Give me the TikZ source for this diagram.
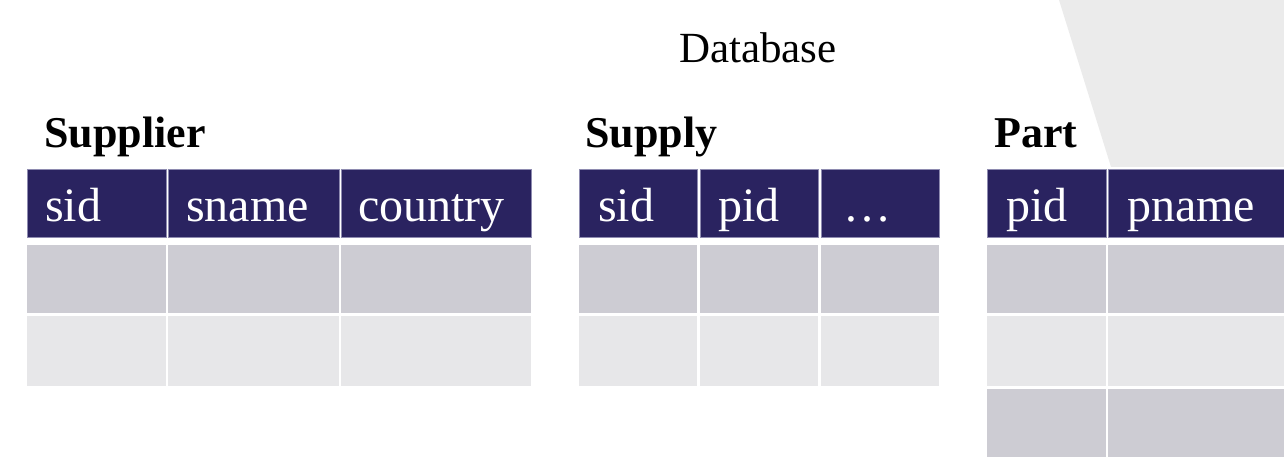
\documentclass[tikz,border=0pt]{standalone}
\usepackage{fontspec}
\setmainfont{Liberation Serif}
\definecolor{hdr}{HTML}{2A2360}
\definecolor{hdrline}{HTML}{8E8BB0}
\definecolor{rowA}{HTML}{CDCCD3}
\definecolor{rowB}{HTML}{E7E7E9}
\definecolor{trap}{HTML}{EBEBEB}
\tikzset{
  cell/.style={rectangle, inner sep=0pt, outer sep=0pt, anchor=north west},
  hcell/.style={cell, fill=hdr, draw=hdrline, line width=0.7pt},
  acell/.style={cell, fill=rowA},
  bcell/.style={cell, fill=rowB},
  htext/.style={anchor=base west, inner sep=0pt, text=white, font=\fontsize{48}{56}\selectfont},
  ttext/.style={anchor=base west, inner sep=0pt, font=\fontsize{44}{52}\selectfont\bfseries},
  dbtext/.style={anchor=base, inner sep=0pt, font=\fontsize{43}{50}\selectfont},
}
\newcommand\mkcell[6]{\node[#2, minimum width=#5pt, minimum height=#6pt] (#1) at (#3,#4) {};}
\begin{document}
\begin{tikzpicture}[x=1pt,y=-1pt]
\useasboundingbox (0,0) rectangle (1284,457);
\clip (0,0) rectangle (1284,457);
% background shape
\fill[trap] (1059,0) -- (1111,167) -- (1290,167) -- (1290,0) -- cycle;
% title
\node[dbtext] (db) at (758,62.5) {Database};
% ---------- Supplier ----------
\node[ttext] (supplier) at (44,148) {Supplier};
\mkcell{s-h1}{hcell}{27}{169.5}{139}{67.5}
\mkcell{s-h2}{hcell}{168}{169.5}{171}{67.5}
\mkcell{s-h3}{hcell}{341}{169.5}{190}{67.5}
\mkcell{s-a1}{acell}{27}{245}{139}{68}
\mkcell{s-a2}{acell}{168}{245}{171}{68}
\mkcell{s-a3}{acell}{341}{245}{190}{68}
\mkcell{s-b1}{bcell}{27}{316}{139}{70}
\mkcell{s-b2}{bcell}{168}{316}{171}{70}
\mkcell{s-b3}{bcell}{341}{316}{190}{70}
\node[htext] (s-t1) at (45,221) {sid};
\node[htext] (s-t2) at (186,221) {sname};
\node[htext] (s-t3) at (358,221) {country};
% ---------- Supply ----------
\node[ttext] (supply) at (585,148) {Supply};
\mkcell{y-h1}{hcell}{579}{169.5}{118}{67.5}
\mkcell{y-h2}{hcell}{700}{169.5}{118}{67.5}
\mkcell{y-h3}{hcell}{821}{169.5}{118}{67.5}
\mkcell{y-a1}{acell}{579}{245}{118}{68}
\mkcell{y-a2}{acell}{700}{245}{118}{68}
\mkcell{y-a3}{acell}{821}{245}{118}{68}
\mkcell{y-b1}{bcell}{579}{316}{118}{70}
\mkcell{y-b2}{bcell}{700}{316}{118}{70}
\mkcell{y-b3}{bcell}{821}{316}{118}{70}
\node[htext] (y-t1) at (598,221) {sid};
\node[htext] (y-t2) at (718,221) {pid};
\node[htext] (y-t3) at (843,221) {\dots};
% ---------- Part ----------
\node[ttext] (part) at (994,148) {Part};
\mkcell{p-h1}{hcell}{987}{169.5}{119}{67.5}
\mkcell{p-h2}{hcell}{1108}{169.5}{182}{67.5}
\mkcell{p-a1}{acell}{987}{245}{119}{68}
\mkcell{p-a2}{acell}{1108}{245}{182}{68}
\mkcell{p-b1}{bcell}{987}{316}{119}{70}
\mkcell{p-b2}{bcell}{1108}{316}{182}{70}
\mkcell{p-c1}{acell}{987}{388.5}{119}{72}
\mkcell{p-c2}{acell}{1108}{388.5}{182}{72}
\node[htext] (p-t1) at (1006,221) {pid};
\node[htext] (p-t2) at (1127,221) {pname};
\end{tikzpicture}
\end{document}
